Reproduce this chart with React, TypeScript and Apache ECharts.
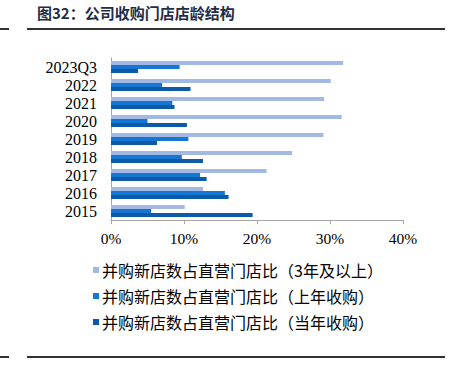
import React, { useEffect, useRef } from "react";
import * as echarts from "echarts";

const categories = ["2015", "2016", "2017", "2018", "2019", "2020", "2021", "2022", "2023Q3"];
const over3Years = [10.1, 12.6, 21.3, 24.8, 29.1, 31.6, 29.2, 30.1, 31.8];
const lastYear = [5.5, 15.6, 12.2, 9.7, 10.6, 5.0, 8.4, 7.0, 9.4];
const thisYear = [19.4, 16.1, 13.1, 12.6, 6.3, 10.4, 8.7, 10.9, 3.7];
const seriesNames = [
  "并购新店数占直营门店比（3年及以上）",
  "并购新店数占直营门店比（上年收购）",
  "并购新店数占直营门店比（当年收购）",
];
const xTicks = [0, 10, 20, 30, 40];

export default function App() {
  const ref = useRef<HTMLDivElement>(null);
  useEffect(() => {
    const chart = echarts.init(ref.current!, null, { renderer: "svg" });
    const colors = ["#A1B9E3", "#1776D2", "#0B5BAA"];
    const serif = "'Liberation Serif', 'Times New Roman', serif";
    const cjk = "'Noto Sans CJK SC', sans-serif";
    chart.setOption({
      animation: false,
      grid: { left: 111, right: 50, top: 58, bottom: 146 },
      xAxis: {
        type: "value",
        min: xTicks[0],
        max: xTicks[xTicks.length - 1],
        interval: 10,
        axisLine: { show: true, lineStyle: { color: "#A6A6A6" } },
        axisTick: { show: true, length: 4, lineStyle: { color: "#A6A6A6" } },
        splitLine: { show: false },
        axisLabel: {
          formatter: (v: number) => v + "%",
          fontFamily: serif,
          fontSize: 15.5,
          color: "#000",
          margin: 10,
        },
      },
      yAxis: {
        type: "category",
        data: categories,
        axisLine: { show: true, lineStyle: { color: "#A6A6A6" } },
        axisTick: { show: false },
        axisLabel: { interval: 0, fontFamily: serif, fontSize: 16, color: "#000", margin: 14 },
      },
      legend: {
        orient: "vertical",
        left: 93,
        top: 262,
        padding: 0,
        itemWidth: 6,
        itemHeight: 6,
        itemGap: 10,
        icon: "rect",
        textStyle: { fontFamily: cjk, fontSize: 16, color: "#000", padding: [0, 0, 0, -2] },
        data: seriesNames,
      },
      series: [over3Years, lastYear, thisYear].map((d, i) => ({
        name: seriesNames[i],
        type: "bar",
        data: d,
        barWidth: 4,
        barGap: "0%",
        itemStyle: { color: colors[i] },
      })),
      graphic: [
        {
          type: "text",
          left: 37,
          top: 5,
          style: {
            text: "图32：公司收购门店店龄结构",
            fontFamily: cjk,
            fontSize: 15,
            fontWeight: "bold",
            fill: "#1F2D47",
          },
        },
        { type: "rect", shape: { x: 0, y: 28, width: 9, height: 2 }, style: { fill: "#333" } },
        { type: "rect", shape: { x: 27, y: 28, width: 418, height: 2 }, style: { fill: "#333" } },
        { type: "rect", shape: { x: 0, y: 356, width: 9, height: 2 }, style: { fill: "#333" } },
        { type: "rect", shape: { x: 27, y: 356, width: 418, height: 2 }, style: { fill: "#333" } },
      ],
    });
    return () => chart.dispose();
  }, []);
  return (
    <div
      ref={ref}
      style={{ position: "fixed", left: 0, top: 0, width: 453, height: 366, background: "#fff" }}
    />
  );
}
